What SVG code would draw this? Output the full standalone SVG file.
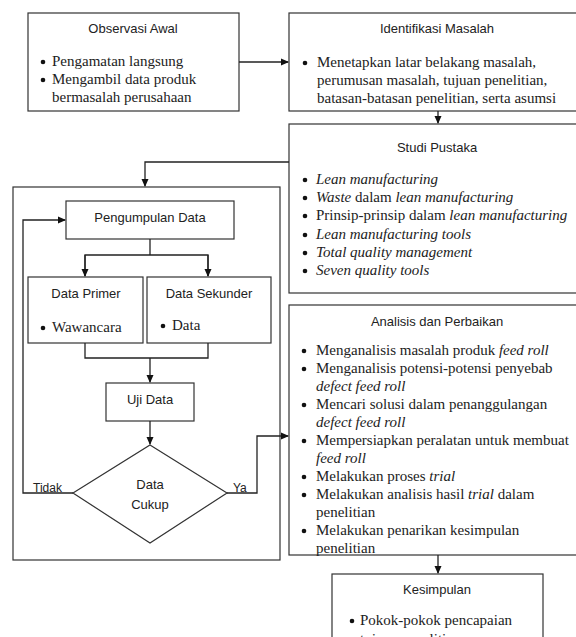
<svg xmlns="http://www.w3.org/2000/svg" width="576" height="637" viewBox="0 0 576 637">
<defs>
<marker id="ah" markerWidth="8" markerHeight="8" refX="7" refY="4" orient="auto" markerUnits="userSpaceOnUse">
<path d="M0,0.5 L8,4 L0,7.5 Z" fill="#111"/>
</marker>
<style>
.box{fill:#fff;stroke:#333;stroke-width:1.2}
.ttl{font-family:"Liberation Sans","Open Sans",sans-serif;font-size:13px;fill:#222;text-anchor:middle}
.bd{font-family:"Liberation Serif","Times New Roman",serif;font-size:15px;fill:#222}
.lbl{font-family:"Liberation Sans","Open Sans",sans-serif;font-size:12px;fill:#222}
.ln{fill:none;stroke:#222;stroke-width:1.3}
.dot{fill:#111}
</style>
</defs>
<rect width="576" height="637" fill="#fff"/>

<g id="container">
<rect x="13" y="187" width="267" height="373" class="box"/>
</g>

<g id="observasi">
<rect x="28" y="13" width="211" height="98" class="box"/>
<text x="133" y="33" class="ttl">Observasi Awal</text>
<circle cx="43" cy="62" r="2.3" class="dot"/><circle cx="43" cy="80" r="2.3" class="dot"/>
<text class="bd"><tspan x="52" y="66">Pengamatan langsung</tspan><tspan x="52" y="84">Mengambil data produk</tspan><tspan x="52" y="102">bermasalah perusahaan</tspan></text>
</g>

<g id="identifikasi">
<rect x="289" y="13" width="292" height="98" class="box"/>
<text x="437" y="33" class="ttl">Identifikasi Masalah</text>
<circle cx="305" cy="63" r="2.3" class="dot"/>
<text class="bd"><tspan x="317" y="67">Menetapkan latar belakang masalah,</tspan><tspan x="317" y="85">perumusan masalah, tujuan penelitian,</tspan><tspan x="317" y="103">batasan-batasan penelitian, serta asumsi</tspan></text>
</g>

<g id="studi">
<rect x="289" y="124" width="292" height="169" class="box"/>
<text x="437" y="152" class="ttl">Studi Pustaka</text>
<circle cx="305" cy="180" r="2.3" class="dot"/><circle cx="305" cy="198" r="2.3" class="dot"/><circle cx="305" cy="216" r="2.3" class="dot"/><circle cx="305" cy="235" r="2.3" class="dot"/><circle cx="305" cy="253" r="2.3" class="dot"/><circle cx="305" cy="271" r="2.3" class="dot"/>
<text class="bd">
<tspan x="316" y="184" font-style="italic">Lean manufacturing</tspan>
<tspan x="316" y="202" font-style="italic">Waste</tspan><tspan> dalam </tspan><tspan font-style="italic">lean manufacturing</tspan>
<tspan x="316" y="220">Prinsip-prinsip dalam </tspan><tspan font-style="italic">lean manufacturing</tspan>
<tspan x="316" y="239" font-style="italic">Lean manufacturing tools</tspan>
<tspan x="316" y="257" font-style="italic">Total quality management</tspan>
<tspan x="316" y="275" font-style="italic">Seven quality tools</tspan>
</text>
</g>

<g id="pengumpulan">
<rect x="66" y="201" width="168" height="38" class="box"/>
<text x="150" y="222" class="ttl">Pengumpulan Data</text>
</g>

<g id="primer">
<rect x="28" y="277" width="115" height="66" class="box"/>
<text x="86" y="298" class="ttl">Data Primer</text>
<circle cx="43" cy="328" r="2.3" class="dot"/>
<text x="52" y="332" class="bd">Wawancara</text>
</g>

<g id="sekunder">
<rect x="147" y="277" width="124" height="66" class="box"/>
<text x="209" y="298" class="ttl">Data Sekunder</text>
<circle cx="163" cy="326" r="2.3" class="dot"/>
<text x="172" y="330" class="bd">Data</text>
</g>

<g id="uji">
<rect x="106" y="383" width="88" height="38" class="box"/>
<text x="150" y="404" class="ttl">Uji Data</text>
</g>

<g id="cukup">
<polygon points="150,445 227,493 150,543 73,493" class="box"/>
<text x="150" y="489" class="ttl">Data</text>
<text x="150" y="509" class="ttl">Cukup</text>
</g>

<g id="analisis">
<rect x="289" y="305" width="292" height="250" class="box"/>
<text x="437" y="326" class="ttl">Analisis dan Perbaikan</text>
<circle cx="304" cy="351" r="2.3" class="dot"/><circle cx="304" cy="369" r="2.3" class="dot"/><circle cx="304" cy="405" r="2.3" class="dot"/><circle cx="304" cy="441" r="2.3" class="dot"/><circle cx="304" cy="477" r="2.3" class="dot"/><circle cx="304" cy="495" r="2.3" class="dot"/><circle cx="304" cy="531" r="2.3" class="dot"/>
<text class="bd">
<tspan x="316" y="355">Menganalisis masalah produk </tspan><tspan font-style="italic">feed roll</tspan>
<tspan x="316" y="373">Menganalisis potensi-potensi penyebab</tspan>
<tspan x="316" y="391" font-style="italic">defect feed roll</tspan>
<tspan x="316" y="409">Mencari solusi dalam penanggulangan</tspan>
<tspan x="316" y="427" font-style="italic">defect feed roll</tspan>
<tspan x="316" y="445">Mempersiapkan peralatan untuk membuat</tspan>
<tspan x="316" y="463" font-style="italic">feed roll</tspan>
<tspan x="316" y="481">Melakukan proses </tspan><tspan font-style="italic">trial</tspan>
<tspan x="316" y="499">Melakukan analisis hasil </tspan><tspan font-style="italic">trial</tspan><tspan> dalam</tspan>
<tspan x="316" y="517">penelitian</tspan>
<tspan x="316" y="535">Melakukan penarikan kesimpulan</tspan>
<tspan x="316" y="553">penelitian</tspan>
</text>
</g>

<g id="kesimpulan">
<rect x="332" y="574" width="211" height="80" class="box"/>
<text x="437" y="594" class="ttl">Kesimpulan</text>
<circle cx="352" cy="621" r="2.3" class="dot"/>
<text class="bd"><tspan x="360" y="625">Pokok-pokok pencapaian</tspan><tspan x="360" y="644">tujuan penelitian</tspan></text>
</g>

<g id="connectors">
<line x1="239" y1="62" x2="288" y2="62" class="ln" marker-end="url(#ah)"/>
<line x1="438" y1="111" x2="438" y2="123" class="ln" marker-end="url(#ah)"/>
<polyline points="289,162 145,162 145,186" class="ln" marker-end="url(#ah)"/>
<line x1="150" y1="239" x2="150" y2="255" class="ln"/>
<polyline points="85,276 85,255 208,255 208,276" class="ln"/>
<line x1="85" y1="255" x2="85" y2="276" class="ln" marker-end="url(#ah)"/>
<line x1="208" y1="255" x2="208" y2="276" class="ln" marker-end="url(#ah)"/>
<polyline points="85,343 85,358 208,358 208,343" class="ln"/>
<line x1="150" y1="358" x2="150" y2="382" class="ln" marker-end="url(#ah)"/>
<line x1="150" y1="421" x2="150" y2="444" class="ln" marker-end="url(#ah)"/>
<polyline points="73,493 23,493 23,220 65,220" class="ln" marker-end="url(#ah)"/>
<polyline points="227,493 257,493 257,436 288,436" class="ln" marker-end="url(#ah)"/>
<line x1="438" y1="555" x2="438" y2="573" class="ln" marker-end="url(#ah)"/>
<text x="33" y="492" class="lbl">Tidak</text>
<text x="233" y="492" class="lbl">Ya</text>
</g>
</svg>
